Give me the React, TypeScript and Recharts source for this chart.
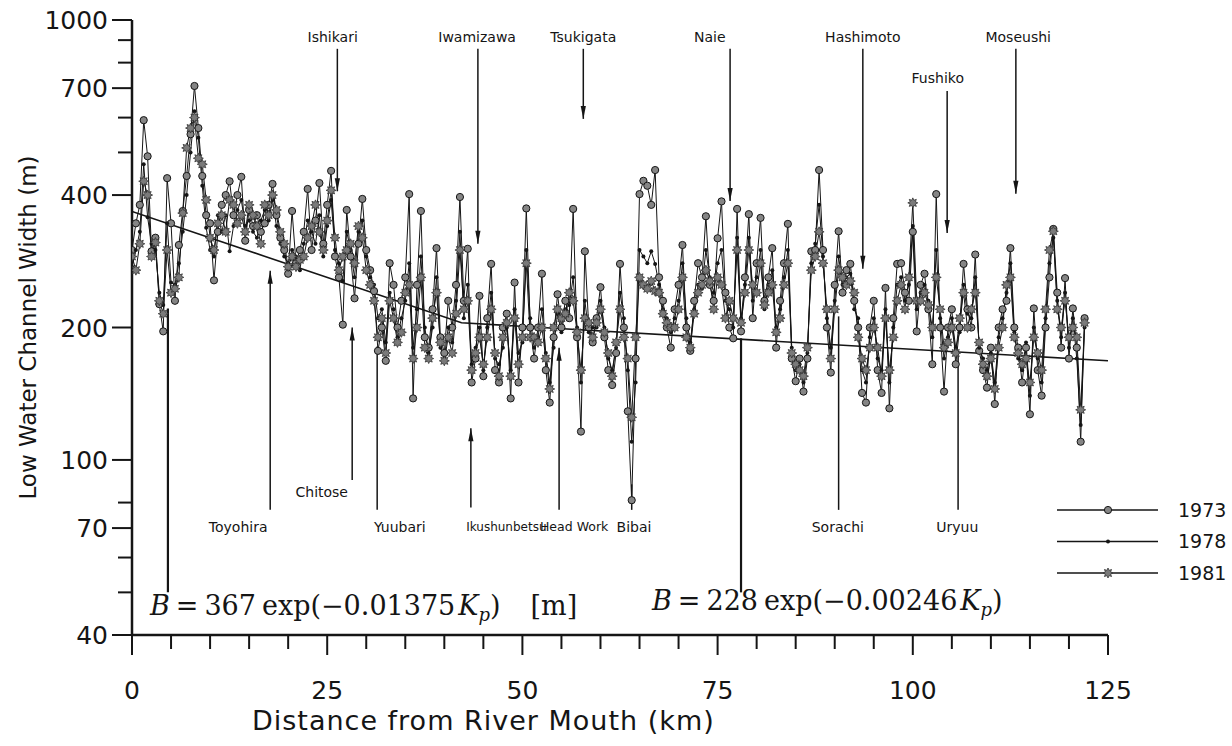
import React from 'react';
import { LineChart, Line, XAxis, YAxis, ReferenceLine, ReferenceDot } from 'recharts';

// Low water channel width (m) every 0.5 km from the river mouth (km 0 .. 122)
const w1973 = [
  300, 345, 380, 592, 490, 298, 320, 226, 196, 437,
  345, 230, 308, 368, 442, 550, 708, 568, 442, 360,
  345, 256, 330, 380, 400, 430, 360, 400, 440, 315,
  370, 340, 360, 330, 345, 380, 424, 360, 320, 300,
  265, 368, 280, 300, 330, 413, 300, 350, 426, 310,
  380, 454, 290, 260, 203, 370, 290, 233, 310, 392,
  300, 270, 242, 177, 200, 168, 280, 250, 200, 230,
  260, 402, 138, 250, 368, 190, 180, 220, 303, 190,
  175, 230, 200, 250, 396, 230, 302, 150, 170, 236,
  155, 210, 279, 160, 150, 200, 215, 138, 253, 150,
  200, 373, 200, 170, 200, 265, 160, 135, 190, 238,
  200, 230, 210, 372, 190, 116, 298, 200, 185, 210,
  247, 190, 160, 148, 175, 279, 200, 129, 81, 170,
  402, 431, 420, 380, 456, 260, 230, 200, 180, 220,
  250, 308, 200, 177, 230, 280, 260, 358, 250, 230,
  319, 387, 240, 200, 189, 372, 196, 260, 362, 210,
  280, 355, 230, 260, 303, 180, 230, 280, 344, 170,
  151, 170, 143, 170, 298, 300, 456, 300, 200, 158,
  250, 331, 240, 270, 279, 230, 200, 142, 135, 200,
  230, 160, 142, 246, 131, 210, 279, 280, 240, 230,
  330, 196, 250, 265, 220, 165, 402, 200, 143, 200,
  220, 165, 200, 279, 220, 200, 293, 177, 160, 146,
  180, 134, 200, 220, 230, 303, 200, 180, 150, 180,
  127, 221, 160, 140, 200, 260, 335, 240, 180, 259,
  170, 221, 180, 110, 210,
];
const w1978 = [
  275, 300, 330, 470, 356, 310, 300, 240, 225, 345,
  253, 250, 280, 330, 400, 500, 620, 540, 420, 337,
  300, 290, 360, 330, 360, 298, 340, 370, 390, 340,
  350, 330, 320, 350, 370, 350, 390, 340, 310, 290,
  280, 300, 290, 270, 310, 350, 330, 310, 360, 290,
  340, 390, 300, 280, 255, 330, 300, 260, 330, 350,
  290, 260, 250, 210, 220, 185, 240, 220, 190, 210,
  230, 280, 180, 220, 290, 200, 175, 200, 260, 180,
  170, 200, 185, 230, 330, 210, 250, 165, 180, 200,
  160, 200, 240, 170, 165, 180, 200, 160, 220, 175,
  185, 300, 210, 180, 190, 220, 175, 150, 180, 215,
  195, 220, 225, 260, 200, 150, 230, 195, 200, 200,
  230, 200, 170, 160, 180, 240, 210, 160, 110, 150,
  300, 290, 280, 298, 279, 250, 220, 210, 195, 210,
  230, 280, 210, 185, 220, 250, 245, 300, 260, 240,
  280, 300, 230, 220, 200, 320, 210, 250, 320, 230,
  260, 300, 220, 250, 270, 200, 220, 260, 300, 180,
  160, 165, 150, 175, 280, 310, 380, 290, 210, 180,
  230, 290, 250, 260, 265, 220, 210, 160, 150, 190,
  210, 170, 160, 220, 150, 200, 250, 260, 230, 250,
  340, 220, 240, 250, 230, 190, 300, 210, 170, 190,
  210, 180, 195, 250, 215, 210, 260, 180, 170, 160,
  175, 150, 190, 210, 240, 280, 195, 170, 160, 185,
  140, 200, 170, 150, 210, 280, 320, 230, 190, 240,
  180, 210, 170, 120, 200,
];
const w1981 = [
  290, 270, 310, 430, 400, 290, 312, 230, 215, 300,
  240, 245, 260, 364, 512, 568, 600, 485, 470, 390,
  320, 300, 345, 360, 330, 390, 380, 345, 360, 330,
  380, 360, 340, 310, 380, 360, 400, 370, 330, 310,
  275, 290, 275, 285, 290, 320, 340, 380, 330, 300,
  350, 410, 320, 270, 290, 300, 310, 280, 340, 320,
  270, 250, 230, 190, 210, 175, 230, 210, 185, 195,
  240, 250, 170, 200, 260, 180, 170, 210, 240, 185,
  168, 190, 175, 215, 300, 220, 230, 160, 175, 190,
  165, 190, 220, 175, 155, 190, 205, 155, 210, 165,
  190, 280, 190, 190, 185, 200, 170, 145, 200, 220,
  210, 215, 240, 230, 195, 160, 210, 205, 190, 205,
  220, 195, 175, 155, 185, 220, 190, 170, 125, 190,
  260, 250, 245, 255, 242, 240, 215, 205, 200, 200,
  220, 260, 190, 180, 215, 240, 250, 270, 255, 220,
  260, 250, 210, 230, 210, 300, 205, 240, 300, 250,
  240, 280, 225, 240, 250, 195, 210, 250, 280, 175,
  165, 160, 155, 180, 270, 290, 330, 280, 220, 170,
  220, 270, 260, 250, 255, 240, 190, 170, 160, 180,
  200, 180, 155, 210, 160, 190, 230, 250, 220, 260,
  384, 230, 230, 240, 225, 200, 260, 220, 180, 185,
  200, 175, 210, 240, 200, 220, 240, 185, 165, 155,
  170, 145, 180, 200, 250, 260, 190, 175, 165, 170,
  150, 190, 175, 160, 220, 300, 331, 220, 200, 230,
  190, 200, 190, 130, 205,
];
const KM_STEP = 0.5;

// Fitted curves: B = 367 exp(-0.01375 Kp) up to the crossing, then B = 228 exp(-0.00246 Kp)
const trendKm = [0, 42.2, 125];
const trendB = [367, 205, 168];

const xTicks = [0, 5, 10, 15, 20, 25, 30, 35, 40, 45, 50, 55, 60, 65, 70, 75, 80, 85, 90, 95, 100, 105, 110, 115, 120, 125];
const xMajor = [0, 25, 50, 75, 100, 125];
const yTicks = [40, 50, 60, 70, 80, 100, 200, 400, 500, 600, 700, 800, 900, 1000];
const yMajor = [40, 70, 100, 200, 400, 700, 1000];

const seriesNames = ['1973', '1978', '1981'];

// Arrows from the tributary / place labels (km, from width, to width)
const topArrows = [
  { km: 26.3, from: 860, to: 408 },
  { km: 44.3, from: 860, to: 310 },
  { km: 57.8, from: 860, to: 596 },
  { km: 76.6, from: 860, to: 388 },
  { km: 93.6, from: 860, to: 272 },
  { km: 104.4, from: 690, to: 328 },
  { km: 113.2, from: 860, to: 403 },
];
const bottomArrows = [
  { km: 17.7, from: 77, to: 269, head: true },
  { km: 28.2, from: 90, to: 200, head: true },
  { km: 31.4, from: 77, to: 181, head: false },
  { km: 43.4, from: 78, to: 118, head: true },
  { km: 54.7, from: 77, to: 180, head: true },
  { km: 64.0, from: 77, to: 88, head: false },
  { km: 90.5, from: 77, to: 212, head: false },
  { km: 105.8, from: 77, to: 177, head: false },
];
const longLines = [
  { km: 4.6, from: 50, to: 221 },
  { km: 78.0, from: 50, to: 189 },
];
const placeLabels = [
  { text: 'Ishikari', km: 25.7, w: 914, anchor: 'middle', size: 14 },
  { text: 'Iwamizawa', km: 44.2, w: 914, anchor: 'middle', size: 14 },
  { text: 'Tsukigata', km: 57.8, w: 914, anchor: 'middle', size: 14 },
  { text: 'Naie', km: 74.0, w: 914, anchor: 'middle', size: 14 },
  { text: 'Hashimoto', km: 93.6, w: 914, anchor: 'middle', size: 14 },
  { text: 'Fushiko', km: 103.2, w: 738, anchor: 'middle', size: 14 },
  { text: 'Moseushi', km: 113.5, w: 914, anchor: 'middle', size: 14 },
  { text: 'Toyohira', km: 13.6, w: 70.5, anchor: 'middle', size: 14 },
  { text: 'Chitose', km: 24.3, w: 84.6, anchor: 'middle', size: 14 },
  { text: 'Yuubari', km: 34.3, w: 70.5, anchor: 'middle', size: 14 },
  { text: 'Ikushunbetsu', km: 42.8, w: 70.5, anchor: 'start', size: 12 },
  { text: 'Head Work', km: 61.0, w: 70.5, anchor: 'end', size: 12.5 },
  { text: 'Bibai', km: 64.3, w: 70.5, anchor: 'middle', size: 14 },
  { text: 'Sorachi', km: 90.4, w: 70.5, anchor: 'middle', size: 14 },
  { text: 'Uryuu', km: 105.7, w: 70.5, anchor: 'middle', size: 14 },
];

const rows = w1973.map((v, i) => ({ km: i * KM_STEP, y73: v, y78: w1978[i], y81: w1981[i] }));
const trendRows = trendKm.map((k, i) => ({ km: k, t: trendB[i] }));

const INK = '#151515';
const MARK = '#858585';
const SANS = "'DejaVu Sans', sans-serif";
const SERIF = "'DejaVu Serif', 'Liberation Serif', serif";

const circleDot = (p: any) => (
  <circle key={`c${p.index}`} cx={p.cx} cy={p.cy} r={3.6} fill={MARK} stroke={INK} strokeWidth={1} />
);
const smallDot = (p: any) => (
  <circle key={`s${p.index}`} cx={p.cx} cy={p.cy} r={2} fill={INK} stroke="none" />
);
const starPoints = (cx: number, cy: number) => {
  const pts: string[] = [];
  for (let i = 0; i < 16; i++) {
    const r = i % 2 === 0 ? 5 : 2.8;
    const a = (i * Math.PI) / 8;
    pts.push(`${(cx + r * Math.cos(a)).toFixed(2)},${(cy + r * Math.sin(a)).toFixed(2)}`);
  }
  return pts.join(' ');
};
const starDot = (p: any) => (
  <polygon key={`t${p.index}`} points={starPoints(p.cx, p.cy)} fill="#7a7a7a" stroke="#333" strokeWidth={0.8} />
);
const dotFns = [circleDot, smallDot, starDot];

const XTick = (p: any) => {
  const v = p.payload.value;
  const major = xMajor.includes(v);
  return (
    <g>
      <line x1={p.x} y1={p.y} x2={p.x} y2={p.y + (major ? 20 : 14)} stroke={INK} strokeWidth={2} />
      {major && (
        <text x={p.x} y={p.y + 64} textAnchor="middle" fontFamily={SANS} fontSize={25} fill={INK}>
          {v}
        </text>
      )}
    </g>
  );
};
const YTick = (p: any) => {
  const v = p.payload.value;
  const major = yMajor.includes(v);
  return (
    <g>
      <line x1={p.x - (major ? 20 : 14)} y1={p.y} x2={p.x} y2={p.y} stroke={INK} strokeWidth={2} />
      {major && (
        <text x={p.x - 24} y={p.y} dy="0.36em" textAnchor="end" fontFamily={SANS} fontSize={25} fill={INK}>
          {v}
        </text>
      )}
    </g>
  );
};

const arrowShape = (head: boolean, width: number) => (p: any) => {
  const { x1, y1, x2, y2 } = p;
  const dir = Math.sign(y2 - y1) || 1;
  return (
    <g>
      <line x1={x1} y1={y1} x2={x2} y2={y2} stroke={INK} strokeWidth={width} />
      {head && (
        <polygon points={`${x2},${y2} ${x2 - 2.6},${y2 - dir * 13} ${x2 + 2.6},${y2 - dir * 13}`} fill={INK} />
      )}
    </g>
  );
};

const textShape = (text: string, anchor: string, size: number) => (p: any) => (
  <text x={p.cx} y={p.cy} dy="0.35em" textAnchor={anchor} fontFamily={SANS} fontSize={size} fill={INK}>
    {text}
  </text>
);

const formula1 = (p: any) => (
  <text x={p.cx} y={p.cy} fontFamily={SERIF} fontSize={27} fill={INK}>
    <tspan fontStyle="italic">B</tspan>
    <tspan dx={6}>=</tspan>
    <tspan dx={6}>367</tspan>
    <tspan dx={6}>exp(−0.01375</tspan>
    <tspan fontStyle="italic" dx={3}>K</tspan>
    <tspan fontStyle="italic" fontSize={18} dy={6}>p</tspan>
    <tspan dy={-6}>)</tspan>
    <tspan dx={30}>[m]</tspan>
  </text>
);
const formula2 = (p: any) => (
  <text x={p.cx} y={p.cy} fontFamily={SERIF} fontSize={27} fill={INK}>
    <tspan fontStyle="italic">B</tspan>
    <tspan dx={6}>=</tspan>
    <tspan dx={6}>228</tspan>
    <tspan dx={6}>exp(−0.00246</tspan>
    <tspan fontStyle="italic" dx={3}>K</tspan>
    <tspan fontStyle="italic" fontSize={18} dy={6}>p</tspan>
    <tspan dy={-6}>)</tspan>
  </text>
);

const Legend = () => (
  <svg width={182} height={95} style={{ position: 'absolute', left: 1050, top: 495 }}>
    {seriesNames.map((name, i) => {
      const y = 15 + i * 31.5;
      const Dot = dotFns[i];
      return (
        <g key={name}>
          <line x1={7} y1={y} x2={108} y2={y} stroke={INK} strokeWidth={1.5} />
          {Dot({ cx: 58, cy: y, index: i })}
          <text x={128} y={y} dy="0.36em" fontFamily={SANS} fontSize={19} fill={INK}>
            {name}
          </text>
        </g>
      );
    })}
  </svg>
);

export default function App() {
  return (
    <div style={{ position: 'absolute', left: 0, top: 0, width: 1232, height: 746, background: '#fff' }}>
      <LineChart width={1232} height={746} data={rows} margin={{ top: 20, right: 124, bottom: 0, left: 0 }}>
        <XAxis
          type="number"
          dataKey="km"
          domain={[0, 125]}
          ticks={xTicks}
          interval={0}
          tickSize={0}
          tickMargin={0}
          tick={(p: any) => <XTick {...p} />}
          axisLine={{ stroke: INK, strokeWidth: 2.5 }}
          height={111}
          allowDataOverflow
          label={{
            content: (lp: any) => {
              const vb = lp.viewBox || { x: 132, y: 635, width: 976 };
              return (
                <text x={vb.x + vb.width * 0.36} y={vb.y + 95} textAnchor="middle" fontFamily={SANS} fontSize={27} letterSpacing={1} fill={INK}>
                  Distance from River Mouth (km)
                </text>
              );
            },
          }}
        />
        <YAxis
          type="number"
          scale="log"
          domain={[40, 1000]}
          ticks={yTicks}
          interval={0}
          tickSize={0}
          tickMargin={0}
          tick={(p: any) => <YTick {...p} />}
          axisLine={{ stroke: INK, strokeWidth: 2.5 }}
          width={132}
          allowDataOverflow
          label={{
            content: (lp: any) => {
              const vb = lp.viewBox || { x: 0, y: 20, width: 132, height: 615 };
              const cx = 28;
              const cy = vb.y + vb.height / 2;
              return (
                <text x={cx} y={cy} transform={`rotate(-90 ${cx} ${cy})`} textAnchor="middle" dy="0.35em" fontFamily={SANS} fontSize={23} fill={INK}>
                  Low Water Channel Width (m)
                </text>
              );
            },
          }}
        />

        {longLines.map((a, i) => (
          <ReferenceLine key={`ll${i}`} segment={[{ x: a.km, y: a.from }, { x: a.km, y: a.to }]} shape={arrowShape(false, 2.2)} />
        ))}
        {bottomArrows.map((a, i) => (
          <ReferenceLine key={`ba${i}`} segment={[{ x: a.km, y: a.from }, { x: a.km, y: a.to }]} shape={arrowShape(a.head, 1.5)} />
        ))}
        {topArrows.map((a, i) => (
          <ReferenceLine key={`ta${i}`} segment={[{ x: a.km, y: a.from }, { x: a.km, y: a.to }]} shape={arrowShape(true, 1.5)} />
        ))}

        <Line data={trendRows} dataKey="t" type="linear" stroke={INK} strokeWidth={1.6} dot={false} isAnimationActive={false} />
        <Line dataKey="y73" type="linear" stroke={INK} strokeWidth={1} dot={circleDot} isAnimationActive={false} />
        <Line dataKey="y78" type="linear" stroke={INK} strokeWidth={1} dot={smallDot} isAnimationActive={false} />
        <Line dataKey="y81" type="linear" stroke={INK} strokeWidth={1} dot={starDot} isAnimationActive={false} />

        {placeLabels.map((l, i) => (
          <ReferenceDot key={`pl${i}`} x={l.km} y={l.w} r={0} shape={textShape(l.text, l.anchor, l.size)} />
        ))}
        <ReferenceDot x={2.3} y={44.5} r={0} shape={formula1} />
        <ReferenceDot x={66.6} y={45.5} r={0} shape={formula2} />
      </LineChart>
      <Legend />
    </div>
  );
}
